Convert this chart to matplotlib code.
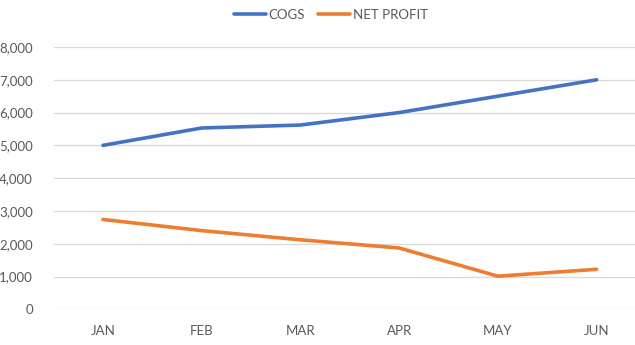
import matplotlib
matplotlib.use("Agg")
import matplotlib.pyplot as plt
from matplotlib.ticker import FuncFormatter

months = ["JAN", "FEB", "MAR", "APR", "MAY", "JUN"]
cogs = [5000, 5530, 5620, 6000, 6500, 7000]
net_profit = [2740, 2400, 2120, 1870, 1010, 1220]
yticks = [0, 1000, 2000, 3000, 4000, 5000, 6000, 7000, 8000]

plt.rcParams['font.family'] = ['Lato', 'DejaVu Sans']

fig = plt.figure(figsize=(6.35, 3.45), dpi=100)
ax = fig.add_axes([53.6/635, (345-309.3)/345, (646-53.6)/635, (309.3-47)/345])

x = list(range(len(months)))
ax.plot(x, cogs, color="#4472C4", lw=2.6, solid_capstyle='round', solid_joinstyle='round', label="COGS")
ax.plot(x, net_profit, color="#ED7D31", lw=2.6, solid_capstyle='round', solid_joinstyle='round', label="NET PROFIT")

ax.set_xlim(-0.5, 5.5)
ax.set_ylim(0, 8000)
ax.set_yticks(yticks)
ax.yaxis.set_major_formatter(FuncFormatter(lambda v, p: f"{int(v):,}"))
ax.set_xticks(x)
ax.set_xticklabels(months)
ax.grid(axis='y', color="#D9D9D9", lw=0.9)
ax.set_axisbelow(True)
for s in ax.spines.values():
    s.set_visible(False)
ax.tick_params(axis='both', length=0, labelsize=9.5, colors="#595959")
ax.tick_params(axis='y', pad=15)
ax.tick_params(axis='x', pad=11)

leg = fig.legend(loc='center', bbox_to_anchor=(331/635, 1-15/345), ncol=2, frameon=False,
                 fontsize=9.5, handlelength=2.4, handletextpad=0.2, columnspacing=1.0)
for t in leg.get_texts():
    t.set_color("#595959")

fig.savefig("out.png", dpi=100)
